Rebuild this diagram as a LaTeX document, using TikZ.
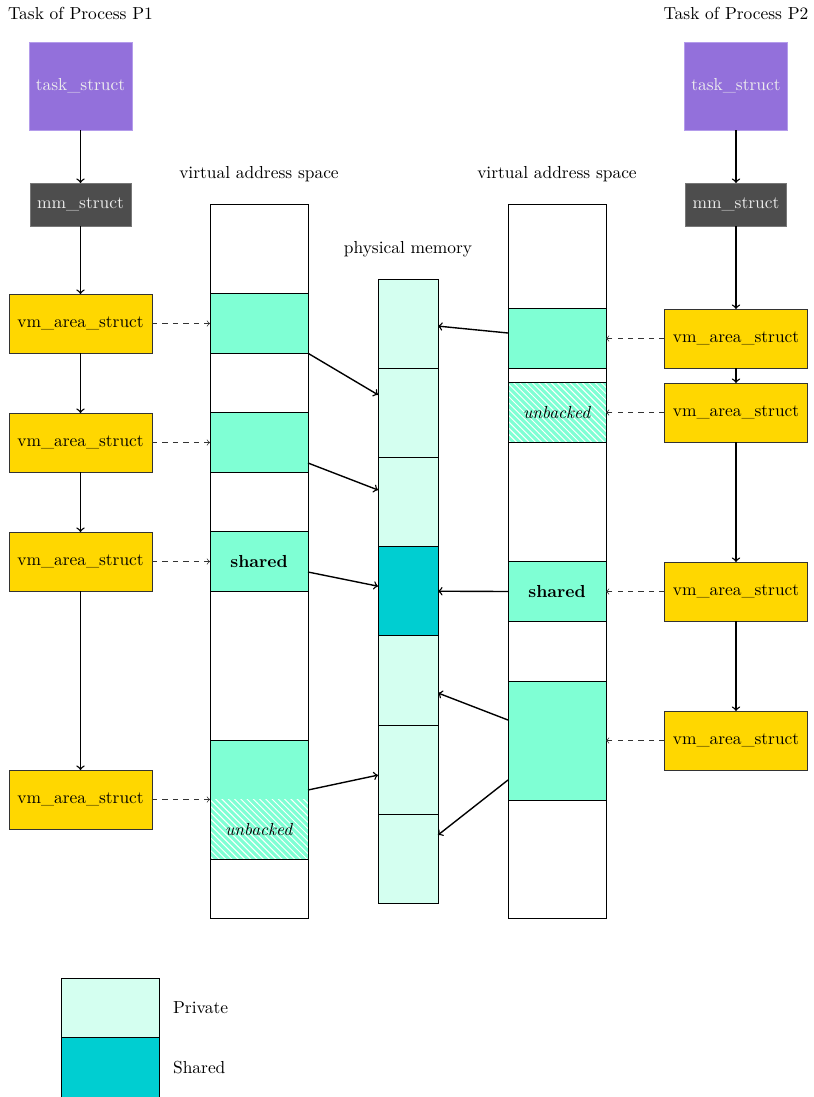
\documentclass[tikz,border=0pt]{standalone}
\usetikzlibrary{calc,patterns}
\definecolor{taskpurple}{HTML}{9370DB}
\definecolor{taskedge}{HTML}{B49CEB}
\definecolor{mmgray}{HTML}{4D4D4D}
\definecolor{mmedge}{HTML}{777777}
\definecolor{vmgold}{HTML}{FFD700}
\definecolor{aqua}{HTML}{7FFFD4}
\definecolor{private}{HTML}{D4FFF0}
\definecolor{sharedc}{HTML}{00CED1}
\definecolor{lighttext}{HTML}{EEEEEE}
% diagonal hatching with a slightly wider step than the stock pattern
\pgfdeclarepatternformonly{wide nw lines}{\pgfqpoint{-1pt}{-1pt}}{\pgfqpoint{4.6pt}{4.6pt}}{\pgfqpoint{3.6pt}{3.6pt}}{
  \pgfsetlinewidth{0.55pt}
  \pgfpathmoveto{\pgfqpoint{0pt}{3.6pt}}
  \pgfpathlineto{\pgfqpoint{3.7pt}{-0.1pt}}
  \pgfusepath{stroke}}
\def\u{0.5747pt}
\tikzset{
  rect/.style={draw, rectangle, inner sep=0pt, outer sep=0pt},
  taskbox/.style={rect, draw=taskedge, fill=taskpurple, text=lighttext,
    minimum width=103*\u, minimum height=88*\u},
  mmbox/.style={rect, draw=mmedge, fill=mmgray, text=lighttext,
    minimum width=101*\u, minimum height=43*\u},
  vmbox/.style={rect, draw=black!80, fill=vmgold,
    minimum width=143*\u, minimum height=59*\u},
  column/.style={rect, minimum width=98*\u, minimum height=714*\u},
  seg/.style={rect, fill=aqua, minimum width=98*\u, minimum height=59.5*\u},
  hatched/.style={seg, preaction={fill=aqua}, pattern=wide nw lines, pattern color=white},
  cell/.style={rect, fill=private, minimum width=60*\u, minimum height=89.2*\u},
  link/.style={->, thick},
  ptr/.style={->, dashed, black!80},
}
\begin{document}
\begin{tikzpicture}[x=\u, y=-\u]
\useasboundingbox (0,0) rectangle (814,1097);

% process titles
\node (p1) at (80.5,13) {Task of Process P1};
\node (p2) at (736,13) {Task of Process P2};

% task and mm structures
\node[taskbox] (t1) at (80.5,86) {task\_struct};
\node[taskbox] (t2) at (736,86) {task\_struct};
\node[mmbox] (m1) at (80.5,204.5) {mm\_struct};
\node[mmbox] (m2) at (736,204.5) {mm\_struct};

% vm_area_struct lists
\node[vmbox] (v1a) at (80.5,323.5) {vm\_area\_struct};
\node[vmbox] (v1b) at (80.5,442.5) {vm\_area\_struct};
\node[vmbox] (v1c) at (80.5,561.5) {vm\_area\_struct};
\node[vmbox] (v1d) at (80.5,799.5) {vm\_area\_struct};
\node[vmbox] (v2a) at (736,338.5) {vm\_area\_struct};
\node[vmbox] (v2b) at (736,412.5) {vm\_area\_struct};
\node[vmbox] (v2c) at (736,591.5) {vm\_area\_struct};
\node[vmbox] (v2d) at (736,740.5) {vm\_area\_struct};

% virtual address space of P1
\node (lt) at (259,174) {virtual address space};
\node[column] (lvas) at (259,561) {};
\node[seg] (ls1) at (259,323.5) {};
\node[seg] (ls2) at (259,442.5) {};
\node[seg] (ls3) at (259,561.5) {\textbf{shared}};
\node[seg, minimum height=119*\u] (ls4) at (259,799.5) {};
\node[hatched, draw=none] (ls4u) at (259,829.5) {\textit{unbacked}};
\draw (ls4.north west) rectangle (ls4.south east);

% virtual address space of P2
\node (rt) at (557,174) {virtual address space};
\node[column] (rvas) at (557,561) {};
\node[seg] (rs1) at (557,338.5) {};
\node[hatched] (rs2) at (557,412.5) {\textit{unbacked}};
\node[seg] (rs3) at (557,591.5) {\textbf{shared}};
\node[seg, minimum height=119*\u] (rs4) at (557,740.5) {};

% physical memory
\node (pt) at (408,249) {physical memory};
\node[cell] (pc1) at (408,323.6) {};
\node[cell] (pc2) at (408,412.8) {};
\node[cell] (pc3) at (408,502) {};
\node[cell, fill=sharedc] (pc4) at (408,591.2) {};
\node[cell] (pc5) at (408,680.4) {};
\node[cell] (pc6) at (408,769.6) {};
\node[cell] (pc7) at (408,858.8) {};

% structure chains
\draw[link] (t1) -- (m1);
\draw[link] (m1) -- (v1a);
\draw[link] (v1a) -- (v1b);
\draw[link] (v1b) -- (v1c);
\draw[link] (v1c) -- (v1d);
\draw[link] (t2) -- (m2);
\draw[link] (m2) -- (v2a);
\draw[link] (v2a) -- (v2b);
\draw[link] (v2b) -- (v2c);
\draw[link] (v2c) -- (v2d);

% areas to their address ranges
\draw[ptr] (v1a.east) -- (ls1.west);
\draw[ptr] (v1b.east) -- (ls2.west);
\draw[ptr] (v1c.east) -- (ls3.west);
\draw[ptr] (v1d.east) -- (ls4.west);
\draw[ptr] (v2a.west) -- (rs1.east);
\draw[ptr] (v2b.west) -- (rs2.east);
\draw[ptr] (v2c.west) -- (rs3.east);
\draw[ptr] (v2d.west) -- (rs4.east);

% address ranges to physical pages
\draw[link] (ls1.south east) -- ($(pc2.west)+(0,-18)$);
\draw[link] ($(ls2.east)+(0,20.5)$) -- ($(pc3.west)+(0,-12)$);
\draw[link] ($(ls3.east)+(0,10.5)$) -- ($(pc4.west)+(0,-5)$);
\draw[link] ($(ls4.east)+(0,-9.5)$) -- ($(pc6.west)+(0,5.5)$);
\draw[link] ($(rs1.west)+(0,-5.5)$) -- ($(pc1.east)+(0,2.5)$);
\draw[link] (rs3.west) -- (pc4.east);
\draw[link] ($(rs4.west)+(0,-20.5)$) -- ($(pc5.east)+(0,12.6)$);
\draw[link] ($(rs4.west)+(0,39.5)$) -- ($(pc7.east)+(0,-23.8)$);

% legend
\node[cell, minimum width=98*\u, minimum height=59.5*\u] (kp) at (110,1008) {};
\node[cell, fill=sharedc, minimum width=98*\u, minimum height=59.5*\u] (ks) at (110,1067.5) {};
\node[anchor=west] (kpl) at (167,1008) {Private};
\node[anchor=west] (ksl) at (167,1068) {Shared};
\end{tikzpicture}
\end{document}
